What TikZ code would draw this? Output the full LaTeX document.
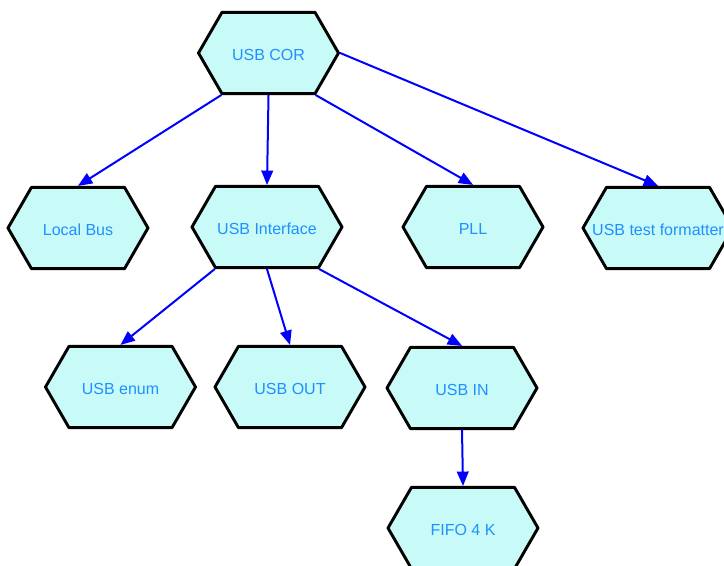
\documentclass[tikz,border=0pt]{standalone}
\usepackage{fontspec}
\setmainfont{Liberation Sans}
\usetikzlibrary{arrows,shapes.symbols}

\definecolor{hexfill}{RGB}{200,250,248}
\definecolor{hextext}{RGB}{30,144,255}

\begin{document}
\begin{tikzpicture}[line cap=round,line join=round,>=triangle 45,x=0.75pt,y=-0.75pt,
		hexbox/.style={signal,signal to=east and west,signal pointer angle=120,draw=black,line width=2.2pt,
			fill=hexfill,text=hextext,inner sep=0pt,minimum height=61pt,minimum width=105pt,
			text height=10.5pt,text depth=0pt,font=\fontsize{12}{14}\selectfont},
		wide/.style={minimum width=112.5pt},
		link/.style={->,draw=blue,line width=1.5pt}]
	\useasboundingbox (0,0) rectangle (724,565);
	% top level
	\node[hexbox] (cor) at (268.5,53) {\makebox[0pt]{USB COR}};
	% second row
	\node[hexbox] (bus) at (78,228) {\makebox[0pt]{Local Bus}};
	\node[hexbox,wide] (iface) at (267,227) {\makebox[0pt]{USB Interface}};
	\node[hexbox] (pll) at (473,227) {\makebox[0pt]{PLL}};
	\node[hexbox,wide] (fmt) at (658,228) {\makebox[0pt]{USB test formatter}};
	% third row
	\node[hexbox,wide] (enum) at (120.5,387) {\makebox[0pt]{USB enum}};
	\node[hexbox,wide] (out) at (290,387) {\makebox[0pt]{USB OUT}};
	\node[hexbox,wide] (in) at (462,388) {\makebox[0pt]{USB IN}};
	% bottom
	\node[hexbox,wide] (fifo) at (463,528) {\makebox[0pt]{FIFO 4 K}};
	% links
	\draw[link] (cor.south west) -- (bus.north);
	\draw[link] (cor.south) -- (iface.north);
	\draw[link] (cor.south east) -- (pll.north);
	\draw[link] (cor.east) -- (fmt.north);
	\draw[link] (iface.south west) -- (enum.north);
	\draw[link] (iface.south) -- (out.north);
	\draw[link] (iface.south east) -- (in.north);
	\draw[link] (in.south) -- (fifo.north);
\end{tikzpicture}
\end{document}
